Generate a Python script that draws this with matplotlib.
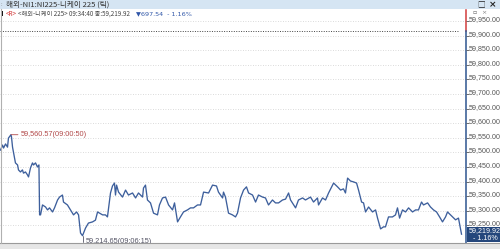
import matplotlib
matplotlib.use("Agg")
import matplotlib.pyplot as plt
from matplotlib.patches import Rectangle
import numpy as np

# minutes after 09:00:00 and price (tick chart, 해외-니케이 225)
minutes = [0.04, 0.19, 0.27, 0.42, 0.57, 0.64, 0.833, 0.87, 0.95, 1.17, 1.33, 1.40, 1.55, 1.70,
           1.78, 1.93, 2.08, 2.16, 2.31, 2.46, 2.54, 2.69, 2.84, 2.95, 3.00, 3.07, 3.22, 3.45,
           3.60, 3.75, 3.98, 4.13, 4.36, 4.51, 4.73, 4.81, 5.11, 5.34, 5.57, 5.80, 5.95, 6.10,
           6.25, 6.48, 6.70, 7.01, 7.23, 7.39, 7.54, 7.77, 7.99, 8.14, 8.37, 8.52, 8.67, 8.75,
           8.83, 8.98, 9.28, 9.51, 9.73, 10.04, 10.27, 10.49, 10.80, 10.87, 11.02, 11.17, 11.40,
           11.63, 11.93, 12.08, 12.31, 12.54, 12.77, 13.07, 13.22, 13.45, 13.67, 13.90, 14.20,
           14.43, 14.66, 14.96, 15.19, 15.42, 15.80, 16.10, 16.40, 16.55, 16.86, 16.93, 17.08,
           17.31, 17.61, 17.84, 17.99, 18.22, 18.45, 18.67, 18.83, 19.13, 19.36, 19.58, 19.89,
           20.11, 20.34, 20.64, 20.87, 21.10, 21.40, 21.63, 21.86, 22.01, 22.39, 22.61, 22.92,
           23.14, 23.52, 23.75, 24.05, 24.13, 24.43, 24.66, 24.89, 25.19, 25.27, 25.57, 25.80,
           26.02, 26.17, 26.33, 26.55, 26.78, 27.01, 27.16, 27.39, 27.54, 27.69, 27.92, 28.22,
           28.45, 28.60, 28.83, 29.05, 29.20, 29.43, 29.73, 29.96, 30.11, 30.27, 30.49, 30.72,
           30.95, 31.25, 31.48, 31.70, 31.93, 32.08, 32.39, 32.61, 32.84, 33.07, 33.30, 33.52,
           33.75, 33.90, 34.13, 34.51, 34.73, 34.96]
prices = [59508, 59525, 59515, 59529, 59518, 59549, 59560.57, 59553, 59518, 59464, 59457, 59440,
          59433, 59440, 59429, 59433, 59423, 59416, 59447, 59464, 59457, 59464, 59450, 59457,
          59286, 59286, 59320, 59313, 59303, 59310, 59296, 59310, 59337, 59347, 59354, 59330,
          59320, 59303, 59286, 59296, 59286, 59224, 59214.65, 59241, 59258, 59262, 59268, 59296,
          59292, 59286, 59286, 59279, 59361, 59385, 59395, 59354, 59388, 59364, 59347, 59371,
          59354, 59361, 59344, 59361, 59347, 59378, 59388, 59337, 59327, 59292, 59286, 59320,
          59344, 59347, 59320, 59303, 59327, 59262, 59279, 59296, 59303, 59310, 59310, 59320,
          59320, 59364, 59361, 59388, 59385, 59364, 59344, 59364, 59347, 59292, 59286, 59279,
          59292, 59344, 59371, 59382, 59361, 59354, 59330, 59354, 59347, 59344, 59320, 59337,
          59327, 59327, 59337, 59340, 59361, 59337, 59310, 59337, 59344, 59337, 59347, 59330,
          59344, 59320, 59344, 59337, 59361, 59388, 59395, 59382, 59371, 59375, 59361, 59412,
          59402, 59399, 59395, 59371, 59330, 59327, 59296, 59313, 59296, 59303, 59275, 59238,
          59245, 59245, 59279, 59279, 59286, 59310, 59275, 59303, 59296, 59310, 59296, 59303,
          59303, 59330, 59320, 59327, 59313, 59303, 59296, 59279, 59262, 59279, 59296, 59286,
          59269, 59275, 59219.92]

prev_close = 59917.46
last_price = 59219.92
change = -697.54
change_pct = -1.16
high_label = "59,560.57(09:00:50)"
low_label = "59,214.65(09:06:15)"
y_ticks = [59950, 59900, 59850, 59800, 59750, 59700, 59650, 59600,
           59550, 59500, 59450, 59400, 59350, 59300, 59250]

W, H = 500, 249
KR = ["Noto Sans CJK KR", "DejaVu Sans"]
NUM = ["Liberation Sans", "DejaVu Sans"]


def fx(px):
    return px / W


def fy(py):
    return 1 - py / H


fig = plt.figure(figsize=(5, 2.49), dpi=100)
fig.patch.set_facecolor("white")

# chart pane
ax = fig.add_axes([0, fy(243), fx(466), (243 - 10) / H])
ax.set_facecolor("white")
ax.plot(minutes, prices, color="#3d5f9c", lw=0.95, zorder=3)
ax.set_xlim(0, 35.3)
ax.set_ylim(59189.7, 59987.7)

for v in y_ticks:
    ax.axhline(v, color="#cfcfcf", lw=0.6, ls=(0, (1, 2)), zorder=1)
ax.axhline(prev_close, xmax=0.985, color="#444444", lw=0.7, ls=(0, (1, 1.5)), zorder=2)

for s in ax.spines.values():
    s.set_visible(False)
ax.set_xticks([])
ax.set_yticks([])

# right axis line: red above previous close, blue below
ax.plot([1, 1], [prev_close, 59987.7], color="#d23c3c", lw=1.1,
        transform=ax.get_yaxis_transform(), clip_on=False, zorder=5)
ax.plot([1, 1], [59189.7, prev_close], color="#2e5590", lw=1.1,
        transform=ax.get_yaxis_transform(), clip_on=False, zorder=5)

ax2 = ax.twinx()
ax2.set_ylim(ax.get_ylim())
ax2.set_yticks(y_ticks)
ax2.set_yticklabels([f"{v:,.2f}" for v in y_ticks])
ax2.tick_params(axis="y", length=2, width=0.6, pad=0.2, colors="#555555", labelsize=5.1)
for lab in ax2.get_yticklabels():
    lab.set_family(NUM)
    lab.set_va("baseline")
for s in ax2.spines.values():
    s.set_visible(False)

# high / low annotations
i_hi = int(np.argmax(prices))
i_lo = int(np.argmin(prices))
ax.annotate(high_label, xy=(minutes[i_hi], prices[i_hi]), xytext=(7, 0),
            textcoords="offset points", va="center", ha="left", fontsize=5.3,
            family=NUM, color="#b24a4a",
            arrowprops=dict(arrowstyle="-", color="#b24a4a", lw=0.6, shrinkA=0, shrinkB=0))
ax.annotate(low_label, xy=(minutes[i_lo], prices[i_lo]), xytext=(2.5, -4.3),
            textcoords="offset points", va="center", ha="left", fontsize=5.3,
            family=NUM, color="#555566",
            arrowprops=dict(arrowstyle="-", color="#555566", lw=0.6, shrinkA=0, shrinkB=0,
                            connectionstyle="angle,angleA=0,angleB=90,rad=0"))

# last price box
fig.patches.append(Rectangle((fx(467), fy(242)), fx(33), 15 / H, transform=fig.transFigure,
                             facecolor="#25477c", edgecolor="none", zorder=10))
fig.text(fx(469), fy(231), f"{last_price:,.2f}", fontsize=5.1, family=NUM, color="white",
         va="center", ha="left", zorder=11)
fig.text(fx(473), fy(238.5), f"- {abs(change_pct):.2f}%", fontsize=5.1, family=NUM,
         color="white", va="center", ha="left", zorder=11)

# title bar
fig.patches.append(Rectangle((0, fy(9)), 1, 9 / H, transform=fig.transFigure,
                             facecolor="#d5e5f3", edgecolor="none", zorder=0))
fig.text(fx(1), fy(4.5), ":", fontsize=4, color="#777777", va="center", family=KR)
fig.text(fx(6), fy(4.5), "해외-NI1:NI225-니케이 225 (틱)", fontsize=5.5, color="#333333",
         va="center", family=KR)
fig.text(fx(477), fy(4.5), "□", fontsize=5.5, color="#222222", va="center", family=KR)
fig.text(fx(489), fy(4.5), "×", fontsize=6.5, color="#222222", va="center", weight="bold")
fig.text(fx(472), fy(13), "▫", fontsize=4.5, color="#666666", va="center", family=["DejaVu Sans"])
fig.text(fx(481), fy(13), "×", fontsize=4.5, color="#888888", va="center")

# info line
fig.patches.append(Rectangle((fx(1.5), fy(16)), fx(1.5), 5 / H, transform=fig.transFigure,
                             facecolor="#111111", edgecolor="none"))
fig.text(fx(6), fy(13.5), "<R>", fontsize=4.6, color="#d03030", va="center", family=KR)
fig.text(fx(18), fy(13.5), "<해외-니케이 225> 09:34:40 종:59,219.92", fontsize=4.5,
         color="#444444", va="center", family=KR)
fig.text(fx(136), fy(13.5), f"▼{abs(change):,.2f}  - {abs(change_pct):.2f}%", fontsize=4.6,
         color="#2f56a8", va="center", family=["DejaVu Sans"])

# bottom frame
fig.patches.append(Rectangle((0, 0), 1, fy(243), transform=fig.transFigure,
                             facecolor="#e6e6e6", edgecolor="none", zorder=0))
fig.lines.append(plt.Line2D([0, 1], [fy(243), fy(243)], transform=fig.transFigure,
                            color="#9a9a9a", lw=0.8))
fig.lines.append(plt.Line2D([fx(0.5), fx(0.5)], [fy(243), fy(9)], transform=fig.transFigure,
                            color="#b0b0b0", lw=0.8))

fig.savefig("out.png", dpi=100)
